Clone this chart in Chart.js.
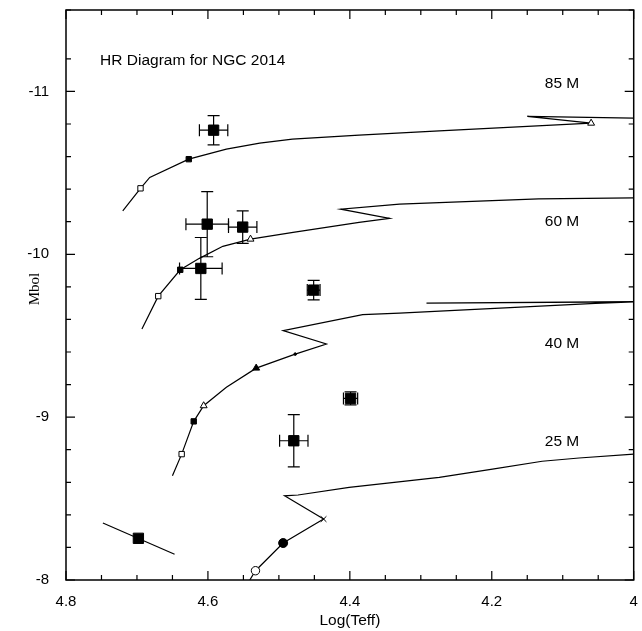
<!DOCTYPE html>
<html>
<head>
<meta charset="utf-8">
<title>HR Diagram for NGC 2014</title>
<script src="https://cdn.jsdelivr.net/npm/chart.js@4.4.1/dist/chart.umd.min.js"></script>
<style>
  html, body { margin: 0; padding: 0; background: #fff; }
</style>
</head>
<body>
<canvas id="canvas" width="642" height="631"></canvas>
<script>
// evolutionary tracks, [log Teff, Mbol]
var track85 = [[4.720,-10.267],[4.695,-10.405],[4.682,-10.472],[4.627,-10.584],[4.574,-10.646],[4.527,-10.683],[4.481,-10.707],[4.387,-10.732],[4.274,-10.758],[4.060,-10.805],[4.150,-10.847],[4.0,-10.836]];
var track60 = [[4.693,-9.541],[4.670,-9.743],[4.639,-9.905],[4.612,-9.975],[4.579,-10.049],[4.540,-10.093],[4.480,-10.134],[4.387,-10.196],[4.344,-10.220],[4.413,-10.277],[4.330,-10.308],[4.218,-10.327],[4.134,-10.340],[4.0,-10.346]];
var track40 = [[4.650,-8.640],[4.637,-8.773],[4.620,-8.974],[4.606,-9.070],[4.574,-9.183],[4.532,-9.301],[4.477,-9.387],[4.433,-9.449],[4.494,-9.531],[4.382,-9.629],[4.330,-9.639],[4.054,-9.699],[4.0,-9.707],[4.292,-9.700],[4.0,-9.709]];
var track25 = [[4.541,-8.0],[4.533,-8.057],[4.494,-8.227],[4.437,-8.374],[4.492,-8.517],[4.473,-8.522],[4.401,-8.569],[4.274,-8.630],[4.199,-8.681],[4.129,-8.729],[4.077,-8.749],[4.0,-8.773]];
var trackNames = ['85 M', '60 M', '40 M', '25 M'];

// markers along the tracks
var openSquares = [[4.695,-10.405],[4.670,-9.743],[4.637,-8.773]];
var filledSquares = [[4.627,-10.584],[4.639,-9.905],[4.620,-8.974]];
var openTriangles = [[4.060,-10.805],[4.540,-10.093],[4.606,-9.070]];
var filledTriangles = [[4.532,-9.301]];
var dots = [[4.477,-9.387]];
var openCircles = [[4.533,-8.057]];
var filledCircles = [[4.494,-8.227]];
var crosses = [[4.437,-8.374]];

// observed stars with errors
var starT = [4.592, 4.601, 4.551, 4.610, 4.451, 4.399, 4.479, 4.698];
var starM = [-10.762, -10.185, -10.167, -9.913, -9.780, -9.115, -8.855, -8.256];
var starTErr = [0.02, 0.03, 0.02, 0.03, 0.009, 0.01, 0.02, 0];
var starMErr = [0.09, 0.2, 0.1, 0.19, 0.06, 0.04, 0.16, 0];
var slopeLine = [[4.748,-8.350],[4.647,-8.158]];

// tick labels
var xMajor = [4.8, 4.6, 4.4, 4.2, 4.0];
var xTickLabels = ['4.8', '4.6', '4.4', '4.2', '4'];
var yMajor = [-11, -10, -9, -8];
var yTickLabels = ['-11', '-10', '-9', '-8'];

var titleText = 'HR Diagram for NGC 2014';
var xTitle = 'Log(Teff)';
var yTitle = 'Mbol';

function pts(arr) {
  return arr.map(function(p) { return {x: p[0], y: p[1]}; });
}

function majorIndex(list, v) {
  for (var i = 0; i < list.length; i++) {
    if (Math.abs(list[i] - v) < 1e-6) return i;
  }
  return -1;
}

var sans = '"Liberation Sans", Arial, sans-serif';

function track(data) {
  return {
    data: pts(data), showLine: true, borderColor: '#000', borderWidth: 1.2,
    pointRadius: 0, tension: 0, order: 5
  };
}

function marks(data, style, radius, filled) {
  return {
    data: pts(data), showLine: false, pointStyle: style, pointRadius: radius,
    pointBackgroundColor: filled ? '#000' : '#fff', pointBorderColor: '#000',
    pointBorderWidth: 1, order: 2
  };
}

var starData = starT.map(function(t, i) { return {x: t, y: starM[i]}; });

var notes = {
  id: 'notes',
  afterDatasetsDraw: function(chart) {
    var ctx = chart.ctx, xs = chart.scales.x, ys = chart.scales.y;
    var cap = 6;
    ctx.save();
    ctx.strokeStyle = '#000';
    ctx.lineWidth = 1.2;
    for (var i = 0; i < starT.length; i++) {
      var px = xs.getPixelForValue(starT[i]), py = ys.getPixelForValue(starM[i]);
      if (starTErr[i] > 0) {
        var x1 = xs.getPixelForValue(starT[i] + starTErr[i]);
        var x2 = xs.getPixelForValue(starT[i] - starTErr[i]);
        ctx.beginPath();
        ctx.moveTo(x1, py); ctx.lineTo(x2, py);
        ctx.moveTo(x1, py - cap); ctx.lineTo(x1, py + cap);
        ctx.moveTo(x2, py - cap); ctx.lineTo(x2, py + cap);
        ctx.stroke();
      }
      if (starMErr[i] > 0) {
        var y1 = ys.getPixelForValue(starM[i] + starMErr[i]);
        var y2 = ys.getPixelForValue(starM[i] - starMErr[i]);
        ctx.beginPath();
        ctx.moveTo(px, y1); ctx.lineTo(px, y2);
        ctx.moveTo(px - cap, y1); ctx.lineTo(px + cap, y1);
        ctx.moveTo(px - cap, y2); ctx.lineTo(px + cap, y2);
        ctx.stroke();
      }
    }
    ctx.restore();
  },
  afterDraw: function(chart) {
    var ctx = chart.ctx, a = chart.chartArea, xs = chart.scales.x, ys = chart.scales.y;
    ctx.save();
    ctx.strokeStyle = '#000';
    ctx.lineWidth = 1.5;
    ctx.strokeRect(a.left, a.top, a.right - a.left, a.bottom - a.top);

    // inward ticks on all four sides
    ctx.lineWidth = 1.2;
    ctx.beginPath();
    xs.ticks.forEach(function(t) {
      var len = majorIndex(xMajor, t.value) >= 0 ? 9 : 5;
      var px = xs.getPixelForValue(t.value);
      ctx.moveTo(px, a.bottom); ctx.lineTo(px, a.bottom - len);
      ctx.moveTo(px, a.top); ctx.lineTo(px, a.top + len);
    });
    ys.ticks.forEach(function(t) {
      var len = majorIndex(yMajor, t.value) >= 0 ? 9 : 5;
      var py = ys.getPixelForValue(t.value);
      ctx.moveTo(a.left, py); ctx.lineTo(a.left + len, py);
      ctx.moveTo(a.right, py); ctx.lineTo(a.right - len, py);
    });
    ctx.stroke();

    ctx.fillStyle = '#000';
    ctx.textBaseline = 'middle';
    ctx.font = '15.5px ' + sans;
    ctx.textAlign = 'left';
    ctx.fillText(titleText, xs.getPixelForValue(4.752), ys.getPixelForValue(-11.186));

    var labT = 4.101;
    var labM = [-11.045, -10.198, -9.449, -8.847];
    ctx.textAlign = 'center';
    trackNames.forEach(function(n, i) {
      ctx.fillText(n, xs.getPixelForValue(labT), ys.getPixelForValue(labM[i]));
    });

    ctx.fillText(xTitle, (a.left + a.right) / 2, 621);

    ctx.save();
    ctx.translate(35, (a.top + a.bottom) / 2 - 6);
    ctx.rotate(-Math.PI / 2);
    ctx.font = '15px "Liberation Serif", "Times New Roman", serif';
    ctx.fillText(yTitle, 0, 0);
    ctx.restore();
    ctx.restore();
  }
};

var config = {
  type: 'scatter',
  data: {
    datasets: [
      track(track85), track(track60), track(track40), track(track25),
      {
        data: pts(slopeLine), showLine: true, borderColor: '#000', borderWidth: 1.2,
        pointRadius: 0, order: 5
      },
      marks(openSquares, 'rect', 3.8, false),
      marks(filledSquares, 'rect', 3.8, true),
      marks(openTriangles, 'triangle', 4, false),
      marks(filledTriangles, 'triangle', 4, true),
      marks(dots, 'circle', 1.3, true),
      marks(openCircles, 'circle', 4.2, false),
      marks(filledCircles, 'circle', 4.5, true),
      marks(crosses, 'crossRot', 4, false),
      {
        data: starData, showLine: false, pointStyle: 'rect', pointRadius: 7.3,
        pointBackgroundColor: '#000', pointBorderColor: '#000', pointBorderWidth: 1,
        order: 1
      }
    ]
  },
  options: {
    responsive: false,
    devicePixelRatio: 1,
    animation: false,
    layout: { padding: { top: 10, right: 7, left: 0, bottom: 0 } },
    plugins: { legend: { display: false }, tooltip: { enabled: false } },
    scales: {
      x: {
        type: 'linear', min: 4.0, max: 4.8, reverse: true,
        grid: { display: false, drawTicks: false },
        border: { display: false },
        afterFit: function(s) { s.height = 51; s.paddingLeft = 0; s.paddingRight = 0; },
        ticks: {
          stepSize: 0.05, autoSkip: false, maxRotation: 0, padding: 13,
          color: '#000', font: { family: sans, size: 15 },
          callback: function(v) {
            var i = majorIndex(xMajor, v);
            return i >= 0 ? xTickLabels[i] : '';
          }
        }
      },
      y: {
        type: 'linear', min: -11.5, max: -8, reverse: true,
        grid: { display: false, drawTicks: false },
        border: { display: false },
        afterFit: function(s) { s.width = 66; s.paddingTop = 0; s.paddingBottom = 0; },
        ticks: {
          stepSize: 0.2, autoSkip: false, padding: 17,
          color: '#000', font: { family: sans, size: 15 },
          callback: function(v) {
            var i = majorIndex(yMajor, v);
            return i >= 0 ? yTickLabels[i] : '';
          }
        }
      }
    }
  },
  plugins: [notes]
};

window.onload = function() {
  window.hrChart = new Chart(document.getElementById('canvas'), config);
};
</script>
</body>
</html>
